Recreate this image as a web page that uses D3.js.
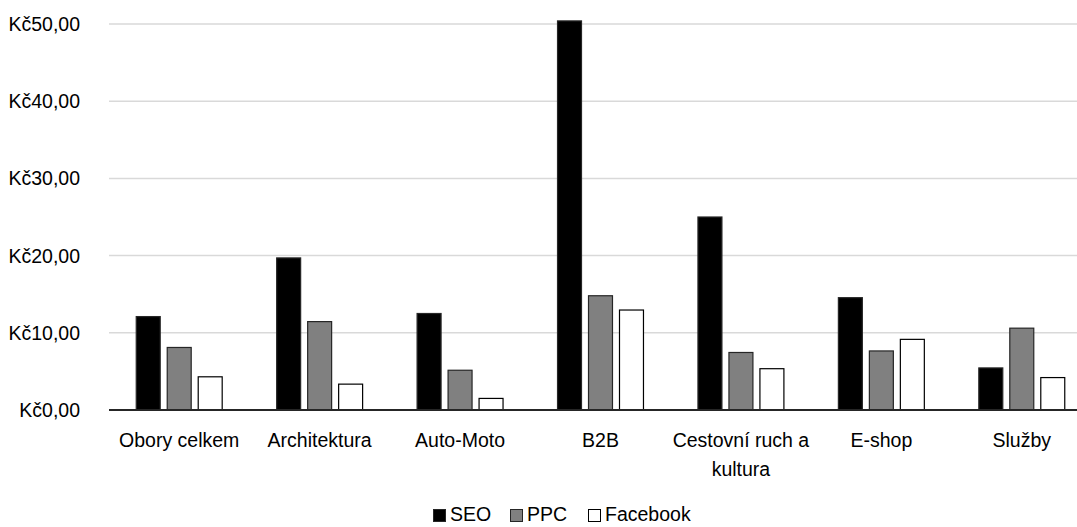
<!DOCTYPE html>
<html>
<head>
<meta charset="utf-8">
<script src="https://cdn.jsdelivr.net/npm/d3@7"></script>
<style>
  html, body { margin: 0; padding: 0; background: #fff; }
  svg { display: block; font-family: "Liberation Sans", Arial, sans-serif; }
</style>
</head>
<body>
<svg id="chart" width="1077" height="527"></svg>
<script>
const categories = [["Obory celkem"], ["Architektura"], ["Auto-Moto"], ["B2B"], ["Cestovní ruch a", "kultura"], ["E-shop"], ["Služby"]];
const seriesNames = ["SEO", "PPC", "Facebook"];
const seoValues = [12.1, 19.7, 12.5, 50.4, 25.0, 14.55, 5.45];
const ppcValues = [8.1, 11.45, 5.15, 14.8, 7.45, 7.65, 10.6];
const facebookValues = [4.3, 3.35, 1.5, 12.95, 5.35, 9.15, 4.2];
const yTicks = [0, 10, 20, 30, 40, 50];

const seriesValues = [seoValues, ppcValues, facebookValues];
const fills = ["#000000", "#808080", "#ffffff"];
const strokes = ["#262626", "#262626", "#000000"];

const svg = d3.select("#chart");
const catKeys = categories.map(c => c.join(" "));

const x0 = d3.scaleBand().domain(catKeys).range([109, 1092]).padding(0);
const x1 = d3.scaleBand().domain(seriesNames).range([0, x0.bandwidth()])
  .paddingInner(0.194).paddingOuter(0.863);
const y = d3.scaleLinear().domain([0, 50]).range([410, 24]);

// gridlines
svg.append("g").selectAll("line").data(yTicks.filter(d => d !== 0)).join("line")
  .attr("x1", 109).attr("x2", 1092)
  .attr("y1", d => y(d)).attr("y2", d => y(d))
  .attr("stroke", "#d9d9d9").attr("stroke-width", 1.5);

// y labels
const fmt = v => "Kč" + d3.format(".2f")(v).replace(".", ",");
svg.append("g").selectAll("text").data(yTicks).join("text")
  .attr("x", 80).attr("y", d => y(d))
  .attr("text-anchor", "end").attr("dominant-baseline", "central")
  .attr("font-size", 19.5).attr("fill", "#000")
  .text(fmt);

// bars
const groups = svg.append("g").selectAll("g").data(catKeys).join("g")
  .attr("transform", d => `translate(${x0(d)},0)`);
groups.selectAll("rect").data((d, i) => seriesNames.map((s, j) => ({s, j, v: seriesValues[j][i]})))
  .join("rect")
  .attr("x", d => x1(d.s) + 0.5)
  .attr("width", x1.bandwidth() - 1)
  .attr("y", d => y(d.v))
  .attr("height", d => y(0) - y(d.v))
  .attr("fill", d => fills[d.j])
  .attr("stroke", d => strokes[d.j])
  .attr("stroke-width", 1.2);

// x axis line
svg.append("line").attr("x1", 109).attr("x2", 1092)
  .attr("y1", y(0)).attr("y2", y(0))
  .attr("stroke", "#262626").attr("stroke-width", 1.8);

// category labels
const labels = svg.append("g").selectAll("text").data(categories).join("text")
  .attr("x", d => x0(d.join(" ")) + x0.bandwidth() / 2)
  .attr("y", 447)
  .attr("text-anchor", "middle")
  .attr("font-size", 19.5).attr("fill", "#000");
labels.selectAll("tspan").data(d => d).join("tspan")
  .attr("x", function() { return d3.select(this.parentNode).attr("x"); })
  .attr("dy", (d, i) => i === 0 ? 0 : 29)
  .text(d => d);

// legend
const legendX = [433, 510, 588];
const leg = svg.append("g").selectAll("g").data(seriesNames).join("g")
  .attr("transform", (d, i) => `translate(${legendX[i]},0)`);
leg.append("rect").attr("x", 0.5).attr("y", 509.5).attr("width", 12).attr("height", 12)
  .attr("fill", (d, i) => fills[i]).attr("stroke", (d, i) => strokes[i]).attr("stroke-width", 1);
leg.append("text").attr("x", 17).attr("y", 521)
  .attr("font-size", 19.5).attr("fill", "#000").text(d => d);
</script>
</body>
</html>
